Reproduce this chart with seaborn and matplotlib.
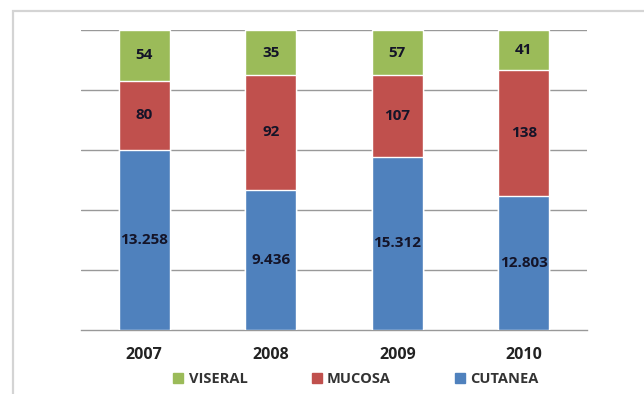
import matplotlib
matplotlib.use("Agg")
import matplotlib.pyplot as plt
from matplotlib.patches import Rectangle, Patch
import seaborn as sns
import pandas as pd

# Data
years = ["2007", "2008", "2009", "2010"]
# segment shares (100% stacked) as drawn
cutanea_share = [0.600, 0.467, 0.577, 0.448]
mucosa_share = [0.231, 0.383, 0.273, 0.419]
viseral_share = [0.169, 0.150, 0.150, 0.133]
# data labels printed on the segments
cutanea_labels = ["13.258", "9.436", "15.312", "12.803"]
mucosa_labels = ["80", "92", "107", "138"]
viseral_labels = ["54", "35", "57", "41"]

series = ["VISERAL", "MUCOSA", "CUTANEA"]
colors = {"VISERAL": "#9BBB59", "MUCOSA": "#C0504D", "CUTANEA": "#4F81BD"}

sns.set_style("white")
plt.rcParams["font.family"] = ["Open Sans", "DejaVu Sans"]

df = pd.DataFrame({
    "year": years,
    "CUTANEA": cutanea_share,
    "MUCOSA": mucosa_share,
    "VISERAL": viseral_share,
})
df["cut_top"] = df["CUTANEA"]
df["muc_top"] = df["CUTANEA"] + df["MUCOSA"]
df["vis_top"] = df["muc_top"] + df["VISERAL"]

fig = plt.figure(figsize=(6.44, 3.94), dpi=100)
ax = fig.add_axes([81 / 644, 64 / 394, 506 / 644, 300 / 394])

# outer chart frame
fig.patches.append(Rectangle((13 / 644, -0.1), 1.2, 1 - 11 / 394 + 0.1,
                             transform=fig.transFigure, fill=False,
                             edgecolor="#d4d4d4", lw=1.6))

bw = 0.4
for top, name in [("vis_top", "VISERAL"), ("muc_top", "MUCOSA"), ("cut_top", "CUTANEA")]:
    sns.barplot(data=df, x="year", y=top, color=colors[name], width=bw,
                saturation=1, ax=ax, zorder=3)

# segment labels
for i in range(len(years)):
    c = cutanea_share[i]
    m = mucosa_share[i]
    v = viseral_share[i]
    kw = dict(ha="center", va="center", fontsize=11, fontweight="bold", color="#141428", zorder=5)
    ax.text(i, c / 2, cutanea_labels[i], **kw)
    ax.text(i, c + m / 2, mucosa_labels[i], **kw)
    ax.text(i, c + m + v / 2, viseral_labels[i], **kw)

ax.set_ylim(0, 1)
ax.set_xlim(-0.5, len(years) - 0.5)
ax.set_yticks([0.2, 0.4, 0.6, 0.8, 1.0])
ax.set_yticklabels([])
ax.tick_params(axis="y", length=0)
ax.yaxis.grid(True, color="#999999", lw=1)
ax.set_axisbelow(True)

ax.set_xticks(range(len(years)))
ax.set_xticklabels(years, fontsize=11.5, fontweight="bold", color="#222222")
ax.tick_params(axis="x", which="major", length=0, pad=12)
ax.set_xticks([i - 0.5 for i in range(len(years) + 1)], minor=True)
ax.tick_params(axis="x", which="minor", length=5, color="#999999", width=1)
ax.set_xlabel("")
ax.set_ylabel("")

for s in ["top", "right", "left"]:
    ax.spines[s].set_visible(False)
ax.spines["bottom"].set_color("#999999")
ax.spines["bottom"].set_linewidth(1)

handles = [Patch(color=colors[s]) for s in series]
fig.legend(handles, series, loc="center", bbox_to_anchor=(356 / 644, 1 - 379 / 394),
           ncol=3, frameon=False, handlelength=0.7, handleheight=0.7,
           columnspacing=4.4, handletextpad=0.35,
           prop={"weight": "bold", "size": 10.5})
for t in fig.legends[0].get_texts():
    t.set_color("#333333")

fig.savefig("out.png", dpi=100)
